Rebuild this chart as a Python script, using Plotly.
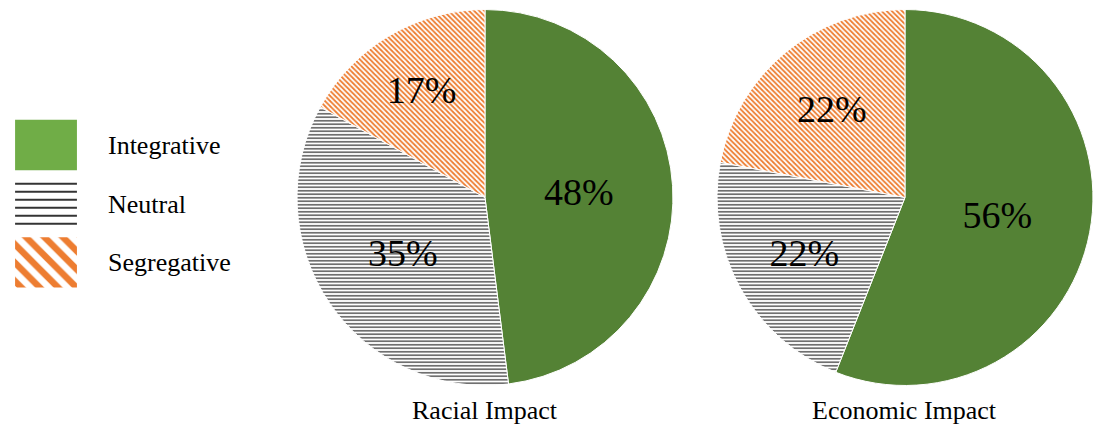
import plotly.graph_objects as go

categories = ["Integrative", "Neutral", "Segregative"]
racial_values = [48, 35, 17]
economic_values = [56, 22, 22]
pie_titles = ["Racial Impact", "Economic Impact"]
legend_swatch_values = [1, 1, 1]

FONT = "Liberation Serif"
pie_green = "#548235"
legend_green = "#70AD47"
orange = "#ED7D31"

pie_marker = dict(
    colors=[pie_green, "white", "white"],
    line=dict(color="white", width=1),
    pattern=dict(
        shape=["", "-", "\\"],
        fgcolor=[pie_green, "#555555", orange],
        bgcolor=[pie_green, "white", "white"],
        fgopacity=1,
        size=[4, 3.5, 3.6],
        solidity=[1, 0.42, 0.5],
        fillmode="replace",
    ),
)

fig = go.Figure()

domains = [
    dict(x=[0.2705, 0.6129], y=[0.0908, 0.9776]),
    dict(x=[0.6530, 0.9954], y=[0.0908, 0.9776]),
]
for vals, title, dom in zip([racial_values, economic_values], pie_titles, domains):
    fig.add_trace(go.Pie(
        labels=categories,
        values=vals,
        sort=False,
        direction="clockwise",
        rotation=0,
        marker=pie_marker,
        texttemplate="%{percent:.0%}",
        textposition="inside",
        insidetextorientation="horizontal",
        textfont=dict(family=FONT, size=38, color="black"),
        domain=dom,
        showlegend=False,
        hoverinfo="label+percent",
    ))
    fig.add_annotation(
        text=title, x=sum(dom["x"]) / 2, y=0.033, xref="paper", yref="paper",
        xanchor="center", yanchor="middle", showarrow=False,
        font=dict(family=FONT, size=26, color="black"),
    )

# custom legend swatches drawn as bars
legend_shapes = ["", "-", "\\"]
legend_fg = [legend_green, "black", orange]
legend_bg = [legend_green, "white", "white"]
legend_size = [8, 8, 13]
legend_solid = [1, 0.2, 0.5]
for cat, val, shp, fg, bg, sz, so in zip(categories, legend_swatch_values, legend_shapes,
                                         legend_fg, legend_bg, legend_size, legend_solid):
    fig.add_trace(go.Bar(
        x=[val],
        y=[cat],
        orientation="h",
        width=0.86,
        marker=dict(
            color=bg,
            line=dict(width=0),
            pattern=dict(shape=shp, fgcolor=fg, bgcolor=bg, fgopacity=1,
                         size=sz, solidity=so, fillmode="replace"),
        ),
        showlegend=False,
        hoverinfo="y",
        xaxis="x",
        yaxis="y",
    ))

fig.update_layout(
    width=1098,
    height=424,
    margin=dict(l=0, r=0, t=0, b=0),
    paper_bgcolor="white",
    plot_bgcolor="white",
    font=dict(family=FONT, color="black"),
    barmode="overlay",
    xaxis=dict(domain=[0.0137, 0.0701], range=[0, 1], visible=False, fixedrange=True),
    yaxis=dict(
        domain=[0.312, 0.727],
        type="category",
        categoryorder="array",
        categoryarray=categories[::-1],
        side="right",
        showgrid=False,
        zeroline=False,
        showline=False,
        ticks="",
        ticklabelstandoff=30,
        tickfont=dict(family=FONT, size=26, color="black"),
        fixedrange=True,
    ),
)

fig.write_html("out.html")
